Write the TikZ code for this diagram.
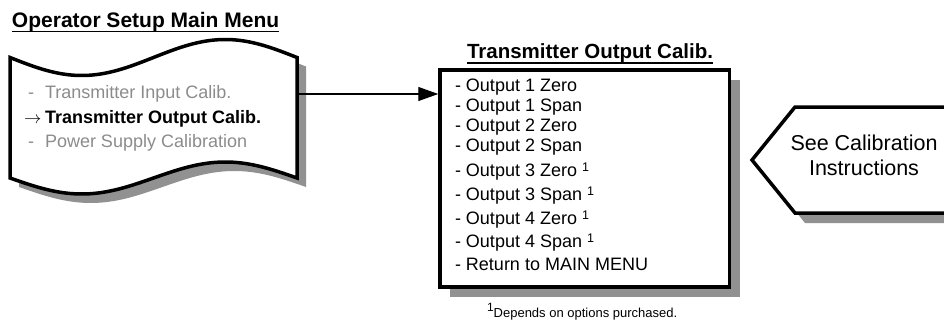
\documentclass[tikz,border=0pt]{standalone}
\usepackage{fontspec}
\setmainfont{Liberation Sans}
\usetikzlibrary{arrows.meta}
\definecolor{shgray}{gray}{0.57}
\definecolor{txtgray}{gray}{0.55}
\newcommand\fnmark{\raisebox{5pt}{\fontsize{12.5}{12}\selectfont 1}}
\begin{document}
\begin{tikzpicture}[x=1pt,y=-1pt,
  shapeline/.style={line width=3.5pt, line join=miter},
  txt/.style={anchor=base west, inner sep=0pt, outer sep=0pt, font=\fontsize{18}{20}\selectfont},
  gtxt/.style={txt, text=txtgray},
  ttl/.style={anchor=base west, inner sep=0pt, outer sep=0pt, font=\bfseries\fontsize{21}{24}\selectfont},
  uline/.style={line width=1.8pt}]
\useasboundingbox (0,0) rectangle (944,329);
\clip (0,0) rectangle (944,329);

% titles
\node[ttl] (t1) at (12,27.5) {Operator Setup Main Menu};
\draw[uline] ([yshift=-4pt]t1.base west) -- ([yshift=-4pt]t1.base east);
\node[ttl, font=\bfseries\fontsize{20.5}{24}\selectfont] (t2) at (467,58.3) {Transmitter Output Calib.};
\draw[uline] ([yshift=-4.5pt]t2.base west) -- ([yshift=-4.5pt]t2.base east);

% wave shape (shadow + shape)
\fill[shgray, shift={(9,9)}] plot[domain=10:297, samples=90] (\x,{57.5+18*sin(1.25436*(\x-10))})
  -- plot[domain=297:10, samples=90] (\x,{178+16*sin(1.25436*(\x-10))}) -- cycle;
\draw[shapeline, fill=white] plot[domain=10:297, samples=90] (\x,{57.5+18*sin(1.25436*(\x-10))})
  -- plot[domain=297:10, samples=90] (\x,{178+16*sin(1.25436*(\x-10))}) -- cycle;

\node[gtxt] (m1d) at (28,98.5) {-};
\node[gtxt] (m1) at (45,98.5) {Transmitter Input Calib.};
\node[txt] (m2a) at (24,123) {$\rightarrow$};
\node[txt, font=\bfseries\fontsize{18}{20}\selectfont] (m2) at (45,123) {Transmitter Output Calib.};
\node[gtxt] (m3d) at (28,147) {-};
\node[gtxt] (m3) at (45,147) {Power Supply Calibration};

% box (shadow + shape)
\fill[shgray] (450,80) rectangle (739.5,297);
\node[draw, shapeline, fill=white, minimum width=289.5pt, minimum height=217pt, inner sep=0pt] (box) at (584.75,178.5) {};

\node[txt] (o1) at (455,91) {- Output 1 Zero};
\node[txt] (o2) at (455,111) {- Output 1 Span};
\node[txt] (o3) at (455,131) {- Output 2 Zero};
\node[txt] (o4) at (455,151.5) {- Output 2 Span};
\node[txt] (o5) at (455,176) {- Output 3 Zero \fnmark};
\node[txt] (o6) at (455,200) {- Output 3 Span \fnmark};
\node[txt] (o7) at (455,224) {- Output 4 Zero \fnmark};
\node[txt] (o8) at (455,247.5) {- Output 4 Span \fnmark};
\node[txt] (o9) at (455,270) {- Return to MAIN MENU};

\node[anchor=base west, inner sep=0pt, outer sep=0pt, font=\fontsize{13}{15}\selectfont] (fn) at (487,317)
  {\raisebox{5.5pt}{\fontsize{12}{12}\selectfont 1}Depends on options purchased.};

% connector
\coordinate (wr) at (298.75,94);
\draw[line width=1.2pt, -{Triangle[length=20pt,width=14pt]}] (wr) -- (wr -| box.west);

% hexagon (shadow + shape)
\fill[shgray] (762,170) -- (805,117) -- (970,117) -- (970,223) -- (805,223) -- cycle;
\draw[shapeline, fill=white] (752,160) -- (795,107) -- (960,107) -- (960,213) -- (795,213) -- cycle;
\node[anchor=base, inner sep=0pt, font=\fontsize{21.5}{25}\selectfont] (c1) at (864,150) {See Calibration};
\node[anchor=base, inner sep=0pt, font=\fontsize{21.5}{25}\selectfont] (c2) at (864,175) {Instructions};
\end{tikzpicture}
\end{document}
